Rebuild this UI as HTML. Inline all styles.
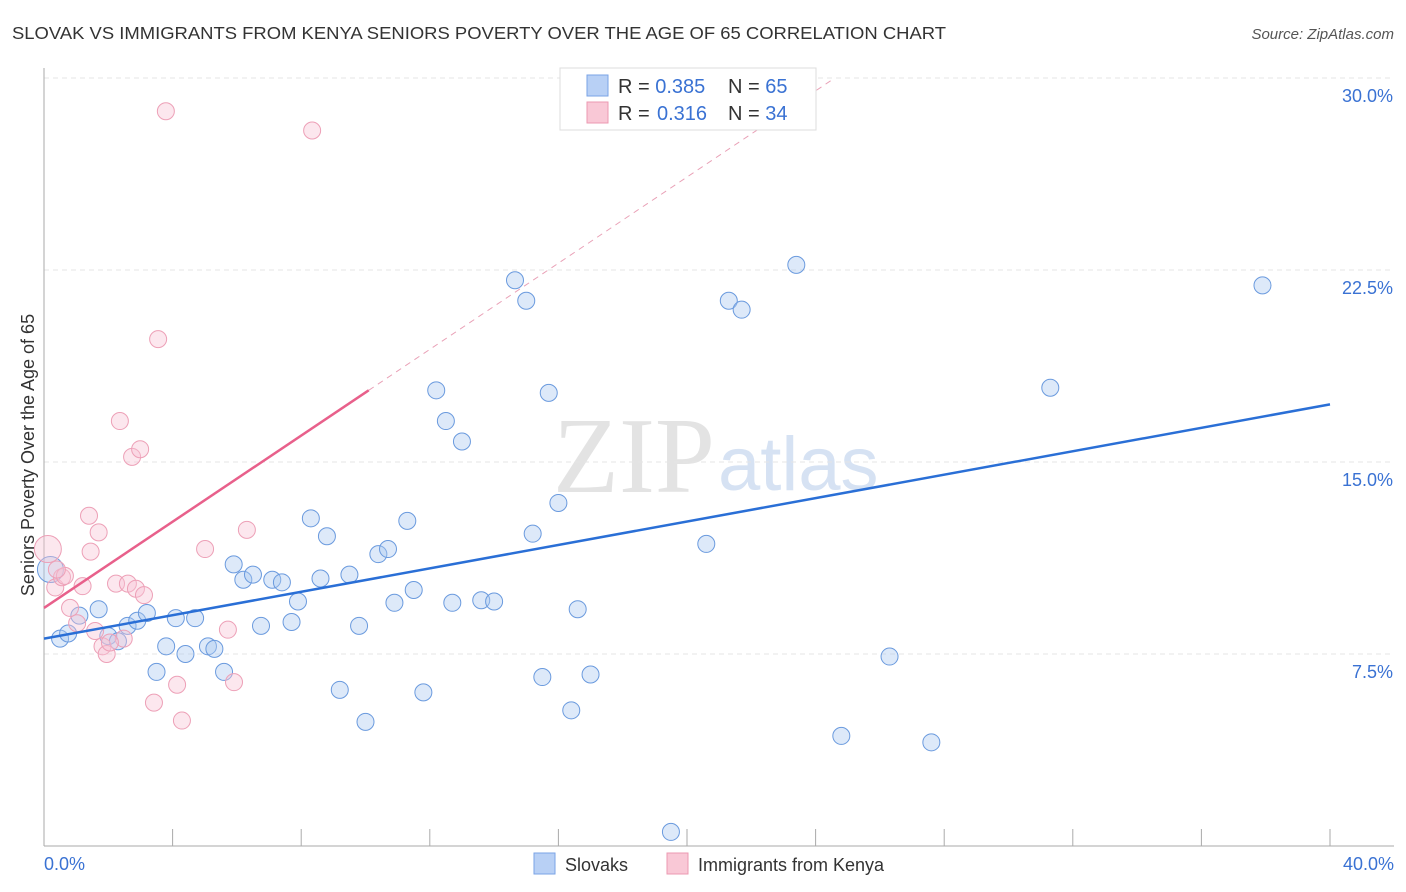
<!DOCTYPE html>
<html><head><meta charset="utf-8">
<style>
body{margin:0;background:#fff;font-family:"Liberation Sans",Arial,sans-serif;}
svg{display:block}
</style></head>
<body>
<svg id="chart" width="1406" height="892">
<text x="12" y="39" font-size="17.5" fill="#333" textLength="934" lengthAdjust="spacingAndGlyphs">SLOVAK VS IMMIGRANTS FROM KENYA SENIORS POVERTY OVER THE AGE OF 65 CORRELATION CHART</text>
<text x="1394" y="39" font-size="15" fill="#555" font-style="italic" text-anchor="end">Source: ZipAtlas.com</text>
<text x="715" y="492" font-size="108" fill="#e3e3e3" text-anchor="end" font-family="Liberation Serif,serif">ZIP</text>
<text x="718" y="490" font-size="76" fill="#d6e2f3">atlas</text>
<text transform="translate(34,455) rotate(-90)" font-size="18" fill="#333" text-anchor="middle">Seniors Poverty Over the Age of 65</text>
<g id="grid"></g><g id="marks"></g>
<g>
<rect x="560" y="68" width="256" height="62" fill="#fff" stroke="#ddd"/>
<rect x="587" y="75" width="21" height="21" fill="#b8d0f5" stroke="#7aa3e6"/>
<rect x="587" y="102" width="21" height="21" fill="#f9c8d6" stroke="#ec99b1"/>
<text x="618" y="93" font-size="20" fill="#333">R = <tspan fill="#3a72d3">0.385</tspan><tspan x="728">N = </tspan><tspan fill="#3a72d3">65</tspan></text>
<text x="618" y="120" font-size="20" fill="#333">R = <tspan x="657" fill="#3a72d3">0.316</tspan><tspan x="728">N = </tspan><tspan fill="#3a72d3">34</tspan></text>
</g>
<g>
<rect x="534" y="853" width="21" height="21" fill="#b8d0f5" stroke="#7aa3e6"/>
<text x="565" y="871" font-size="18" fill="#333">Slovaks</text>
<rect x="667" y="853" width="21" height="21" fill="#f9c8d6" stroke="#ec99b1"/>
<text x="698" y="871" font-size="18" fill="#333">Immigrants from Kenya</text>
</g>
</svg>
<script>
const yTicks=[7.5,15,22.5,30];
const yTickLabels=["7.5%","15.0%","22.5%","30.0%"];
const xTickLabels=["0.0%","40.0%"];
const slovakX=[0.2,0.5,0.75,1.1,1.7,2.0,2.3,2.6,2.9,3.2,3.5,3.8,4.1,4.4,4.7,5.1,5.3,5.6,5.9,6.2,6.5,6.75,7.1,7.4,7.7,7.9,8.3,8.6,8.8,9.2,9.5,9.8,10.0,10.4,10.7,10.9,11.3,11.5,11.8,12.2,12.5,12.7,13.0,13.6,14.0,14.65,15.0,15.2,15.5,15.7,16.0,16.4,16.6,17.0,19.5,20.6,21.3,21.7,23.4,24.8,26.3,27.6,31.3,37.9];
const slovakY=[10.8,8.1,8.3,9.0,9.25,8.2,8.0,8.6,8.8,9.1,6.8,7.8,8.9,7.5,8.9,7.8,7.7,6.8,11.0,10.4,10.6,8.6,10.4,10.3,8.75,9.55,12.8,10.45,12.1,6.1,10.6,8.6,4.85,11.4,11.6,9.5,12.7,10.0,6.0,17.8,16.6,9.5,15.8,9.6,9.55,22.1,21.3,12.2,6.6,17.7,13.4,5.3,9.25,6.7,0.55,11.8,21.3,20.95,22.7,4.3,7.4,4.05,17.9,21.9];
const kenyaX=[0.12,0.35,0.56,0.65,0.81,1.2,1.4,1.45,1.7,1.82,1.95,2.24,2.36,2.48,2.61,2.74,2.86,2.99,3.11,3.42,3.55,3.79,4.14,4.29,5.01,5.72,5.91,6.31,8.34,1.59,1.03,2.05,0.4];
const kenyaY=[11.6,10.1,10.5,10.55,9.3,10.15,12.9,11.5,12.25,7.8,7.5,10.25,16.6,8.1,10.25,15.2,10.05,15.5,9.8,5.6,19.8,28.7,6.3,4.9,11.6,8.45,6.4,12.35,27.95,8.4,8.7,7.95,10.8];
const kenyaSize=[14,9,9,9,9,9,9,9,9,9,9,9,9,9,9,9,9,9,9,9,9,9,9,9,9,9,9,9,9,9,9,9,9];
const slovakTrend=[8.1,17.25];
const kenyaTrend=[9.3,17.8];
const kenyaSolidEnd=10.1;
const X=v=>44+v/40*1286, Y=v=>846-v*25.6;
const NS="http://www.w3.org/2000/svg";
function mk(tag,attrs,parent){const e=document.createElementNS(NS,tag);for(const k in attrs)e.setAttribute(k,attrs[k]);parent.appendChild(e);return e;}
const grid=document.getElementById('grid'), marks=document.getElementById('marks');
yTicks.forEach((t,i)=>{
 let l=mk('line',{x1:44,x2:1394,y1:Y(t),y2:Y(t),stroke:'#e4e4e4','stroke-dasharray':'5,4'},grid);
 
 
 let tx=mk('text',{x:1393,y:Y(t)+24,'font-size':18,fill:'#3a72d3','text-anchor':'end'},grid);
 tx.textContent=yTickLabels[i];
 
 
});
let ax=mk('line',{x1:44,x2:44,y1:68,y2:846,stroke:'#aaa'},grid);


let bx=mk('line',{x1:44,x2:1394,y1:846,y2:846,stroke:'#aaa'},grid);


for(let i=0;i<=10;i++){
 let t=mk('line',{x1:X(i*4),x2:X(i*4),y1:829,y2:846,stroke:'#aaa'},grid);
 
 
}
[[0,'start',44],[40,'end',1394]].forEach((a,i)=>{
 let tx=mk('text',{x:a[2],y:870,'font-size':18,fill:'#3a72d3','text-anchor':a[1]},grid);
 tx.textContent=xTickLabels[i];
 
 
});
slovakX.forEach((x,i)=>{
 let c=mk('circle',{cx:X(x),cy:Y(slovakY[i]),r:i==0?13:8.5,fill:'rgba(170,200,240,0.4)',stroke:'#6a9ade','stroke-width':1},marks);
 
 
});
kenyaX.forEach((x,i)=>{
 let c=mk('circle',{cx:X(x),cy:Y(kenyaY[i]),r:kenyaSize[i]-0.5,fill:'rgba(248,195,212,0.4)',stroke:'#eda0b7','stroke-width':1},marks);
 
 
});
const ks=(kenyaTrend[1]-kenyaTrend[0])/(kenyaSolidEnd);
const kx2=(30-kenyaTrend[0])/ks;
let kd=mk('line',{x1:X(kenyaSolidEnd),y1:Y(kenyaTrend[1]),x2:X(kx2),y2:Y(30),stroke:'#e9a0b6','stroke-dasharray':'6,5'},marks);


let kl=mk('line',{x1:X(0),y1:Y(kenyaTrend[0]),x2:X(kenyaSolidEnd),y2:Y(kenyaTrend[1]),stroke:'#e8608b','stroke-width':2.5},marks);


let sl=mk('line',{x1:X(0),y1:Y(slovakTrend[0]),x2:X(40),y2:Y(slovakTrend[1]),stroke:'#2a6fd6','stroke-width':2.5},marks);


</script>
</body></html>
